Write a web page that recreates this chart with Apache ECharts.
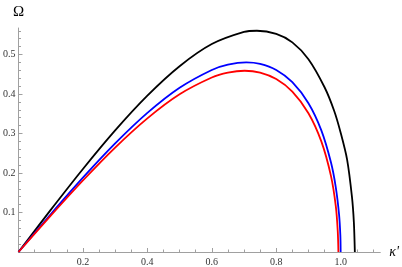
<!DOCTYPE html>
<html>
<head>
<meta charset="utf-8">
<script src="https://cdn.jsdelivr.net/npm/echarts@6/dist/echarts.min.js"></script>
<style>
html,body{margin:0;padding:0;background:#fff;}
#chart{width:402px;height:267px;}
</style>
</head>
<body>
<div id="chart"></div>
<script>
// Values: [kappa', Omega]
const blackCurve = [[0,0],[0.1,0.1066],[0.2,0.2102],[0.3,0.3078],[0.4,0.3958],[0.5,0.4703],[0.6,0.5264],[0.7,0.5571],[0.74,0.5601],[0.8,0.552],[0.85,0.5306],[0.9,0.488],[0.95,0.417],[0.98,0.357],[1.0,0.302],[1.02,0.234],[1.035,0.14],[1.041,0.075],[1.044,0]];
const blueCurve = [[0,0],[0.1,0.0955],[0.2,0.188],[0.3,0.2747],[0.4,0.352],[0.5,0.4157],[0.6,0.4608],[0.65,0.4742],[0.707,0.48],[0.75,0.4762],[0.8,0.4608],[0.85,0.4299],[0.9,0.3766],[0.94,0.3079],[0.97,0.2264],[0.985,0.1632],[0.995,0.0954],[0.999,0.043],[1.0,0]];
const redCurve = [[0,0],[0.1,0.0919],[0.2,0.181],[0.3,0.2643],[0.4,0.3383],[0.5,0.3992],[0.6,0.4417],[0.65,0.454],[0.702,0.4588],[0.75,0.4541],[0.8,0.4378],[0.85,0.406],[0.9,0.3514],[0.94,0.2799],[0.97,0.192],[0.985,0.1154],[0.991,0.052],[0.993,0]];
const xTickLabels = [0.2,0.4,0.6,0.8,1.0];
const xMinorTicks = [0.05,0.1,0.15,0.25,0.3,0.35,0.45,0.5,0.55,0.65,0.7,0.75,0.85,0.9,0.95,1.05,1.1];
const yTickLabels = [0.1,0.2,0.3,0.4,0.5];
const yMinorTicks = [0.02,0.04,0.06,0.08,0.12,0.14,0.16,0.18,0.22,0.24,0.26,0.28,0.32,0.34,0.36,0.38,0.42,0.44,0.46,0.48,0.52,0.54,0.56];
const seriesNames = ['black','blue','red'];
const seriesColors = ['#000000','#0000ff','#ff0000'];

const axisColor = '#a0a0a0';
const serif = '"Liberation Serif", "DejaVu Serif", serif';
const labelStyle = {fontFamily:serif, fontSize:10, color:'#333'};
const X_MIN=0, X_MAX=1.123, Y_MIN=0, Y_MAX=0.567;

const chart = echarts.init(document.getElementById('chart'), null, {renderer:'canvas'});
function xAxisDef(main){
  return {
    type:'value', min:X_MIN, max:X_MAX, position:'bottom',
    axisLine:{show:main, onZero:false, lineStyle:{color:axisColor, width:1}},
    splitLine:{show:false},
    axisTick:{show:true, inside:true, length: main?4:2.5, customValues: main?xTickLabels:xMinorTicks, lineStyle:{color:axisColor}},
    axisLabel:{show:main, customValues:xTickLabels, margin:5, ...labelStyle, formatter:v=>v.toFixed(1)},
    name: main?"κ'":'', nameLocation:'end', nameGap:9,
    nameTextStyle:{fontFamily:serif, fontStyle:'italic', fontSize:14, color:'#000'}
  };
}
function yAxisDef(main){
  return {
    type:'value', min:Y_MIN, max:Y_MAX, position:'left',
    axisLine:{show:main, onZero:false, lineStyle:{color:axisColor, width:1}},
    splitLine:{show:false},
    axisTick:{show:true, inside:true, length: main?4:2.5, customValues: main?yTickLabels:yMinorTicks, lineStyle:{color:axisColor}},
    axisLabel:{show:main, customValues:yTickLabels, margin:3, ...labelStyle, formatter:v=>v.toFixed(1)},
    name: main?'Ω':'', nameLocation:'end', nameGap:8,
    nameTextStyle:{fontFamily:serif, fontSize:15, color:'#000', align:'center'}
  };
}
const curves=[blackCurve,blueCurve,redCurve];
chart.setOption({
  animation:false,
  backgroundColor:'#fff',
  grid:{left:16, right:21, top:28, bottom:15},
  xAxis:[xAxisDef(true), xAxisDef(false)],
  yAxis:[yAxisDef(true), yAxisDef(false)],
  series: curves.map((d,i)=>({
    name:seriesNames[i], type:'line', data:d, smooth:0.3, symbol:'none',
    xAxisIndex:0, yAxisIndex:0,
    lineStyle:{color:seriesColors[i], width:1.8}
  }))
});
</script>
</body>
</html>
